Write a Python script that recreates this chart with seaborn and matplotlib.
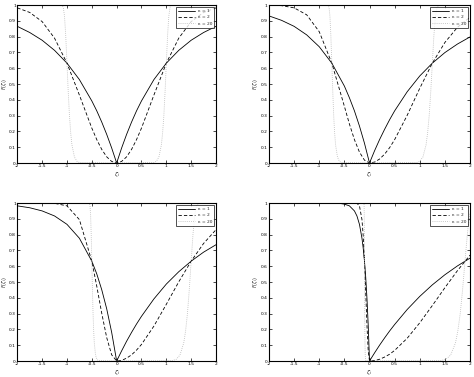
import matplotlib
matplotlib.use("Agg")
import matplotlib.pyplot as plt
import seaborn as sns
import pandas as pd

# ---- data ----
Z_GRID = [-2, -1.75, -1.5, -1.25, -1, -0.75, -0.5, -0.4, -0.3, -0.2, -0.1, 0,
          0.1, 0.2, 0.3, 0.4, 0.5, 0.75, 1, 1.25, 1.5, 1.75, 2]

P1_K1 = [0.865, 0.826, 0.777, 0.713, 0.632, 0.528, 0.393, 0.330, 0.259, 0.181, 0.095, 0,
         0.095, 0.181, 0.259, 0.330, 0.393, 0.528, 0.632, 0.713, 0.777, 0.826, 0.865]
P1_K2 = [0.982, 0.953, 0.895, 0.790, 0.632, 0.430, 0.221, 0.148, 0.086, 0.039, 0.010, 0,
         0.010, 0.039, 0.086, 0.148, 0.221, 0.430, 0.632, 0.790, 0.895, 0.953, 0.982]
P2_K1 = [0.931, 0.903, 0.865, 0.811, 0.736, 0.632, 0.487, 0.413, 0.330, 0.234, 0.125, 0,
         0.077, 0.148, 0.213, 0.274, 0.330, 0.451, 0.551, 0.632, 0.699, 0.753, 0.798]
P2_K2 = [0.999, 0.996, 0.982, 0.938, 0.831, 0.632, 0.359, 0.247, 0.148, 0.069, 0.018, 0,
         0.006, 0.025, 0.056, 0.097, 0.148, 0.302, 0.473, 0.632, 0.763, 0.859, 0.923]
P3_K1 = [0.982, 0.970, 0.950, 0.918, 0.865, 0.777, 0.632, 0.551, 0.451, 0.330, 0.181, 0,
         0.064, 0.125, 0.181, 0.234, 0.283, 0.393, 0.487, 0.565, 0.632, 0.689, 0.736]
P3_K2 = [1.000, 1.000, 1.000, 0.998, 0.982, 0.895, 0.632, 0.473, 0.302, 0.148, 0.039, 0,
         0.004, 0.018, 0.039, 0.069, 0.105, 0.221, 0.359, 0.501, 0.632, 0.744, 0.831]

Z_GRID4 = [-2, -1.5, -1, -0.75, -0.6, -0.5, -0.4, -0.3, -0.25, -0.2, -0.15, -0.125, -0.1,
           -0.075, -0.05, -0.025, 0, 0.1, 0.2, 0.3, 0.4, 0.5, 0.75, 1, 1.25, 1.5, 1.75, 2]
P4_K1 = [1.000, 1.000, 1.000, 0.999, 0.998, 0.993, 0.982, 0.950, 0.918, 0.865, 0.777, 0.713,
         0.632, 0.528, 0.393, 0.221, 0, 0.051, 0.100, 0.146, 0.190, 0.231, 0.326, 0.409,
         0.482, 0.546, 0.602, 0.651]
P4_K2 = [1.000, 1.000, 1.000, 1.000, 1.000, 1.000, 1.000, 1.000, 0.998, 0.982, 0.895, 0.790,
         0.632, 0.430, 0.221, 0.061, 0, 0.003, 0.011, 0.025, 0.043, 0.067, 0.144, 0.242,
         0.351, 0.464, 0.572, 0.670]

F20 = [1, 0.999, 0.986, 0.93, 0.806, 0.632, 0.453, 0.30, 0.190, 0.114, 0.038, 0.011, 0.003, 0,
       0.003, 0.011, 0.038, 0.114, 0.190, 0.30, 0.453, 0.632, 0.806, 0.93, 0.986, 0.999, 1]
P1_Z20 = [-2, -1.1, -1.075, -1.05, -1.025, -1.0, -0.975, -0.95, -0.925, -0.9, -0.85, -0.8, -0.75, 0,
          0.75, 0.8, 0.85, 0.9, 0.925, 0.95, 0.975, 1.0, 1.025, 1.05, 1.075, 1.1, 2]
P2_Z20 = [-2, -0.825, -0.806, -0.7875, -0.769, -0.75, -0.731, -0.7125, -0.694, -0.675, -0.6375, -0.6,
          -0.5625, 0, 0.9375, 1.0, 1.0625, 1.125, 1.156, 1.1875, 1.219, 1.25, 1.281, 1.3125,
          1.344, 1.375, 2]
P3_Z20 = [-2, -0.55, -0.5375, -0.525, -0.5125, -0.5, -0.4875, -0.475, -0.4625, -0.45, -0.425, -0.4,
          -0.375, 0, 1.125, 1.2, 1.275, 1.35, 1.3875, 1.425, 1.4625, 1.5, 1.5375, 1.575,
          1.6125, 1.65, 2]
P4_Z20 = [-2, -0.11, -0.1075, -0.105, -0.1025, -0.1, -0.0975, -0.095, -0.0925, -0.09, -0.085, -0.08,
          -0.075, 0, 1.425, 1.52, 1.615, 1.71, 1.7575, 1.805, 1.8525, 1.9, 1.9475, 1.995, 2.0]
P4_F20 = [1, 0.999, 0.986, 0.93, 0.806, 0.632, 0.453, 0.30, 0.190, 0.114, 0.038, 0.011, 0.003, 0,
          0.003, 0.011, 0.038, 0.114, 0.190, 0.30, 0.453, 0.632, 0.806, 0.93, 0.938]

LEGEND = ["\u03ba = 1", "\u03ba = 2", "\u03ba = 20"]
X_TICKS = [-2, -1.5, -1, -0.5, 0, 0.5, 1, 1.5, 2]
X_TICKLABELS = ["-2", "-1.5", "-1", "-0.5", "0", "0.5", "1", "1.5", "2"]
Y_TICKS = [0, 0.1, 0.2, 0.3, 0.4, 0.5, 0.6, 0.7, 0.8, 0.9, 1]
Y_TICKLABELS = ["0", "0.1", "0.2", "0.3", "0.4", "0.5", "0.6", "0.7", "0.8", "0.9", "1"]

panels = [
    (Z_GRID, P1_K1, P1_K2, P1_Z20, F20),
    (Z_GRID, P2_K1, P2_K2, P2_Z20, F20),
    (Z_GRID, P3_K1, P3_K2, P3_Z20, F20),
    (Z_GRID4, P4_K1, P4_K2, P4_Z20, P4_F20),
]

sns.set_style("white")
plt.rcParams['font.family'] = ['DejaVu Sans']
plt.rcParams['mathtext.fontset'] = 'dejavusans'

fig = plt.figure(figsize=(4.74, 3.77), dpi=100)
positions = [
    (0.0365, 0.5676, 0.4192, 0.4191),
    (0.5675, 0.5676, 0.4241, 0.4191),
    (0.0365, 0.0424, 0.4192, 0.4191),
    (0.5675, 0.0424, 0.4241, 0.4191),
]

for (zg, k1, k2, z20, f20), pos in zip(panels, positions):
    ax = fig.add_axes(pos)
    sns.lineplot(x=zg, y=k1, ax=ax, color="black", lw=0.6, label=LEGEND[0], sort=False)
    sns.lineplot(x=zg, y=k2, ax=ax, color="black", lw=0.6, linestyle=(0, (4, 2.5)),
                 label=LEGEND[1], sort=False)
    sns.lineplot(x=z20, y=f20, ax=ax, color="#b8b8b8", lw=0.6, linestyle=(0, (1, 1.5)),
                 label=LEGEND[2], sort=False)
    ax.set_xlim(-2, 2)
    ax.set_ylim(0, 1)
    ax.set_xticks(X_TICKS)
    ax.set_xticklabels(X_TICKLABELS)
    ax.set_yticks(Y_TICKS)
    ax.set_yticklabels(Y_TICKLABELS)
    ax.tick_params(direction="in", length=2, width=0.5, labelsize=3.2, pad=1.0,
                   top=True, right=True, bottom=True, left=True, colors="black")
    for s in ax.spines.values():
        s.set_linewidth(0.8)
        s.set_color("black")
    ax.set_xlabel(r"$\zeta_i$", fontsize=4, labelpad=0.8)
    ax.set_ylabel(r"$F(\zeta_i)$", fontsize=3.6, labelpad=0.2)
    leg = ax.legend(loc="upper right", fontsize=3.2, frameon=True, fancybox=False,
                    handlelength=3.8, borderpad=0.5, labelspacing=0.5, handletextpad=0.5,
                    borderaxespad=0.4)
    leg.get_frame().set_edgecolor("black")
    leg.get_frame().set_linewidth(0.6)

fig.savefig("out.png", dpi=100)
